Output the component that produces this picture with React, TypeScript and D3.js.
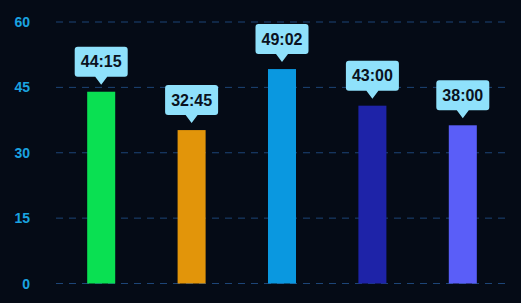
import React from "react";
import * as d3 from "d3";

const categories = ["A", "B", "C", "D", "E"];
const values = [44.0, 35.2, 49.2, 40.8, 36.3];
const labels = ["44:15", "32:45", "49:02", "43:00", "38:00"];
const colors = ["#0ae052", "#e2950a", "#0a98e0", "#1e23a8", "#5a5ef8"];
const yTicks = [0, 15, 30, 45, 60];

const W = 521;
const H = 303;

export default function App() {
  const x = d3
    .scaleBand<string>()
    .domain(categories)
    .range([56, 508])
    .paddingInner(0.69)
    .paddingOuter(0.345);
  const y = d3.scaleLinear().domain([0, 60]).range([283.5, 22]);

  const boxW = 53;
  const boxH = 30;
  const tipH = 8;
  const tipW = 6;
  const gap = 7;

  return (
    <svg
      width={W}
      height={H}
      style={{ position: "absolute", left: 0, top: 0, display: "block", background: "#050b16" }}
    >
      <rect x={0} y={0} width={W} height={H} fill="#050b16" />
      {yTicks.map((t) => (
        <g key={t}>
          <line
            x1={56}
            x2={508}
            y1={y(t)}
            y2={y(t)}
            stroke="#1d4577"
            strokeWidth={1}
            strokeDasharray="7,6"
          />
          <text
            x={30}
            y={y(t)}
            dy="0.36em"
            textAnchor="end"
            fill="#1aa3e0"
            fontFamily="'Liberation Sans', Arial, sans-serif"
            fontWeight="bold"
            fontSize={14}
          >
            {t}
          </text>
        </g>
      ))}
      {categories.map((c, i) => {
        const bx = x(c) as number;
        const bw = x.bandwidth();
        const cx = bx + bw / 2;
        const top = y(values[i]);
        const tipY = top - gap;
        const boxBottom = tipY - tipH;
        const boxTop = boxBottom - boxH;
        const path = d3.path();
        path.moveTo(cx - boxW / 2 + 3, boxTop);
        path.lineTo(cx + boxW / 2 - 3, boxTop);
        path.quadraticCurveTo(cx + boxW / 2, boxTop, cx + boxW / 2, boxTop + 3);
        path.lineTo(cx + boxW / 2, boxBottom - 3);
        path.quadraticCurveTo(cx + boxW / 2, boxBottom, cx + boxW / 2 - 3, boxBottom);
        path.lineTo(cx + tipW, boxBottom);
        path.lineTo(cx, tipY);
        path.lineTo(cx - tipW, boxBottom);
        path.lineTo(cx - boxW / 2 + 3, boxBottom);
        path.quadraticCurveTo(cx - boxW / 2, boxBottom, cx - boxW / 2, boxBottom - 3);
        path.lineTo(cx - boxW / 2, boxTop + 3);
        path.quadraticCurveTo(cx - boxW / 2, boxTop, cx - boxW / 2 + 3, boxTop);
        path.closePath();
        return (
          <g key={c}>
            <rect x={bx} y={top} width={bw} height={y(0) - top} fill={colors[i]} />
            <path d={path.toString()} fill="#8fe1fb" />
            <text
              x={cx}
              y={boxTop + boxH / 2}
              dy="0.36em"
              textAnchor="middle"
              fill="#0a1220"
              fontFamily="'Liberation Sans', Arial, sans-serif"
              fontWeight="bold"
              fontSize={16}
            >
              {labels[i]}
            </text>
          </g>
        );
      })}
    </svg>
  );
}
